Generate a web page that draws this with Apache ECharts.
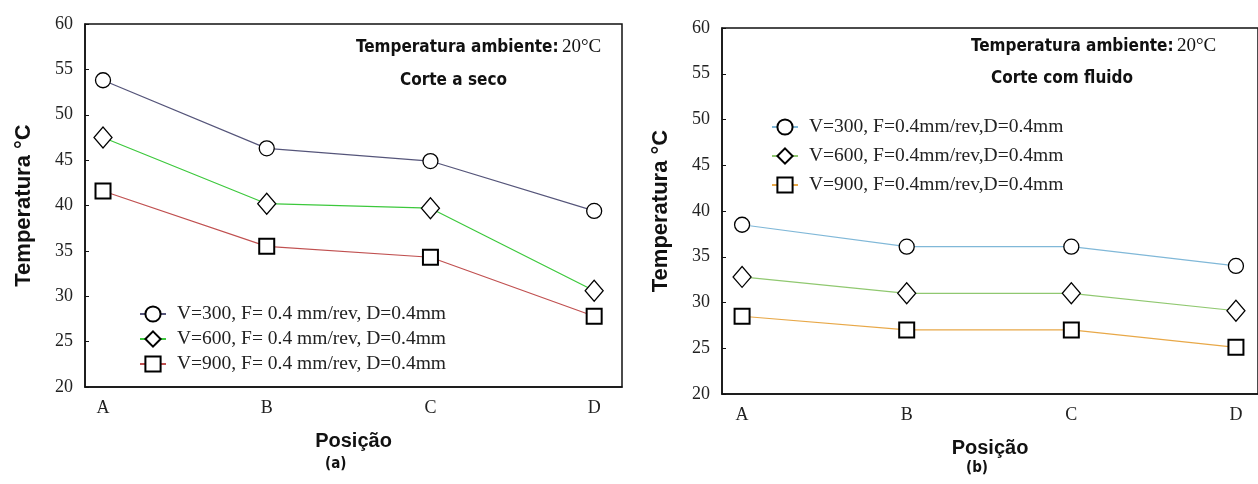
<!DOCTYPE html>
<html><head><meta charset="utf-8">
<script src="https://cdn.jsdelivr.net/npm/echarts@6/dist/echarts.min.js"></script>
<style>html,body{margin:0;padding:0;background:#fff}#c{width:1258px;height:484px}</style>
</head><body><div id="c"></div>
<script>
// ---- data ----
const categories = ['A', 'B', 'C', 'D'];
const yTicks = [20, 25, 30, 35, 40, 45, 50, 55, 60];
const namesDry = ['V=300, F= 0.4 mm/rev, D=0.4mm', 'V=600, F= 0.4 mm/rev, D=0.4mm', 'V=900, F= 0.4 mm/rev, D=0.4mm'];
const namesFluid = ['V=300, F=0.4mm/rev,D=0.4mm', 'V=600, F=0.4mm/rev,D=0.4mm', 'V=900, F=0.4mm/rev,D=0.4mm'];
const dryV300 = [53.8, 46.3, 44.9, 39.4];
const dryV600 = [47.5, 40.2, 39.7, 30.6];
const dryV900 = [41.6, 35.5, 34.3, 27.8];
const fluidV300 = [38.5, 36.1, 36.1, 34.0];
const fluidV600 = [32.8, 31.0, 31.0, 29.1];
const fluidV900 = [28.5, 27.0, 27.0, 25.1];

const chart = echarts.init(document.getElementById('c'));
const serif = "'Liberation Serif','Times New Roman',serif";
const sans = "'Liberation Sans',Arial,sans-serif";
const narrow = "'Liberation Sans Narrow','DejaVu Sans Condensed',sans-serif";

function xAxis(gi, min, max) {
  return {
    type: 'value', gridIndex: gi, min: min, max: max,
    name: 'Posição', nameLocation: 'middle', nameGap: 44,
    nameTextStyle: {fontFamily: sans, fontSize: 20, fontWeight: 'bold', color: '#111'},
    axisLine: {show: true, onZero: false, lineStyle: {color: '#111', width: 1.5}},
    axisTick: {show: false},
    splitLine: {show: false},
    axisLabel: {customValues: [0, 1, 2, 3], formatter: v => categories[Math.round(v)],
      fontFamily: serif, fontSize: 18, color: '#222', margin: 12}
  };
}
function yAxis(gi) {
  return {
    type: 'value', gridIndex: gi, min: yTicks[0], max: yTicks[yTicks.length - 1], interval: 5,
    name: 'Temperatura °C', nameLocation: 'middle', nameGap: 50,
    nameTextStyle: {fontFamily: sans, fontSize: 22, fontWeight: 'bold', color: '#111'},
    axisLine: {show: true, onZero: false, lineStyle: {color: '#111', width: 1.5}},
    axisTick: {show: true, inside: true, length: 4, lineStyle: {color: '#111'}},
    splitLine: {show: false},
    axisLabel: {fontFamily: serif, fontSize: 18, color: '#222', margin: 12}
  };
}
const sym = [
  {symbol: 'circle', symbolSize: 15, borderWidth: 1.3},
  {symbol: 'diamond', symbolSize: [18, 21], borderWidth: 1.3},
  {symbol: 'rect', symbolSize: 15, borderWidth: 2}
];
function mk(name, data, color, s, xi) {
  return {
    type: 'line', name: name, xAxisIndex: xi, yAxisIndex: xi,
    data: data.map((v, i) => [i, v]),
    symbol: s.symbol, symbolSize: s.symbolSize,
    lineStyle: {color: color, width: 1.2},
    itemStyle: {color: '#fff', borderColor: '#000', borderWidth: s.borderWidth},
    color: color, z: 3
  };
}
const annRich = {
  b: {fontFamily: narrow, fontWeight: 'bold', fontSize: 17, fill: '#111'},
  s: {fontFamily: serif, fontSize: 19, fill: '#111'}
};
chart.setOption({
  animation: false,
  backgroundColor: '#fff',
  grid: [
    {left: 85, top: 24, width: 537, height: 363, show: true, borderColor: '#111', borderWidth: 1.5},
    {left: 722, top: 28, width: 536, height: 366, show: true, borderColor: '#111', borderWidth: 1.5}
  ],
  xAxis: [xAxis(0, -0.11, 3.17), xAxis(1, -0.122, 3.134)],
  yAxis: [yAxis(0), yAxis(1)],
  legend: [
    {data: namesDry, orient: 'vertical', left: 134, top: 299, itemWidth: 26, itemHeight: 19, itemGap: 5,
     textStyle: {fontFamily: serif, fontSize: 19.5, color: '#222', padding: [0, 0, 0, 6]}},
    {data: namesFluid, orient: 'vertical', left: 766, top: 112, itemWidth: 26, itemHeight: 19, itemGap: 9,
     textStyle: {fontFamily: serif, fontSize: 19.5, color: '#222', padding: [0, 0, 0, 6]}}
  ],
  series: [
    mk(namesDry[0], dryV300, '#55557a', sym[0], 0),
    mk(namesDry[1], dryV600, '#3cc83c', sym[1], 0),
    mk(namesDry[2], dryV900, '#c05050', sym[2], 0),
    mk(namesFluid[0], fluidV300, '#80b8d8', sym[0], 1),
    mk(namesFluid[1], fluidV600, '#90c870', sym[1], 1),
    mk(namesFluid[2], fluidV900, '#e8a848', sym[2], 1)
  ],
  graphic: [
    {type: 'text', left: 356, top: 38, style: {text: '{b|Temperatura ambiente:} {s|20°C}', rich: annRich}},
    {type: 'text', left: 400, top: 72, style: {text: 'Corte a seco', font: 'bold 17px ' + narrow, fill: '#111'}},
    {type: 'text', left: 971, top: 37, style: {text: '{b|Temperatura ambiente:} {s|20°C}', rich: annRich}},
    {type: 'text', left: 991, top: 70, style: {text: 'Corte com fluido', font: 'bold 17px ' + narrow, fill: '#111'}},
    {type: 'text', left: 325, top: 457, style: {text: '(a)', font: 'bold 15px ' + narrow, fill: '#111'}},
    {type: 'text', left: 966, top: 461, style: {text: '(b)', font: 'bold 15px ' + narrow, fill: '#111'}}
  ]
});
</script></body></html>
